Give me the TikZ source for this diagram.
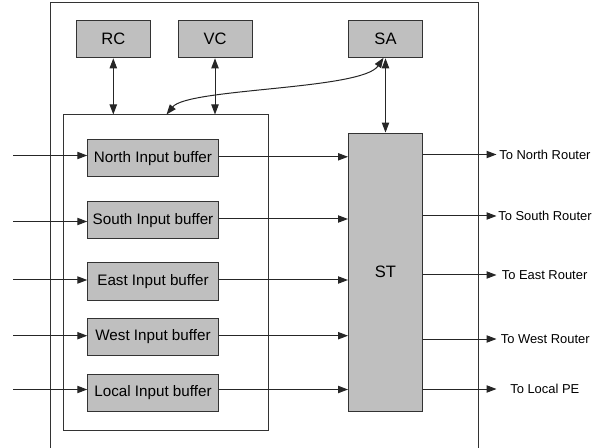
\documentclass[tikz,border=0pt]{standalone}
\usepackage{fontspec}
\setmainfont{Liberation Sans}
\usetikzlibrary{arrows.meta}
\begin{document}
\begin{tikzpicture}[x=0.75pt,y=-0.75pt,
  blk/.style={draw=black!80,fill=black!25,line width=0.75pt,inner sep=0pt},
  bigtxt/.style={font=\fontsize{12.4pt}{14pt}\selectfont},
  buftxt/.style={font=\fontsize{11.4pt}{13pt}\selectfont},
  outtxt/.style={font=\fontsize{9.7pt}{12pt}\selectfont,anchor=west,inner sep=0pt},
  arr/.style={line width=0.75pt,draw=black!85,-{Triangle[length=7.5pt,width=5.5pt]}},
  darr/.style={line width=0.75pt,draw=black!85,{Triangle[length=7.5pt,width=5.5pt]}-{Triangle[length=7.5pt,width=5.5pt]}},
  frame/.style={draw=black!80,line width=0.75pt}]
\useasboundingbox (0,0) rectangle (605,448);
% outer frame (open at bottom)
\draw[frame] (50.5,448) -- (50.5,3) -- (478.3,3) -- (478.3,448);
% inner box
\node[frame,minimum width=205*0.75pt,minimum height=315*0.75pt,inner sep=0pt] (inner) at (165.5,272.5) {};
% control blocks
\node[blk,bigtxt,minimum width=74*0.75pt,minimum height=37*0.75pt] (rc) at (113.3,39.3) {RC};
\node[blk,bigtxt,minimum width=74*0.75pt,minimum height=37*0.75pt] (vc) at (215,39.3) {VC};
\node[blk,bigtxt,minimum width=74*0.75pt,minimum height=37*0.75pt] (sa) at (385.5,39.3) {SA};
\node[blk,bigtxt,minimum width=74*0.75pt,minimum height=278.5*0.75pt] (st) at (385.5,272.3) {ST};
% buffers
\node[blk,buftxt,minimum width=130.5*0.75pt,minimum height=37*0.75pt] (nb) at (153,158.5) {North Input buffer};
\node[blk,buftxt,minimum width=130.5*0.75pt,minimum height=37*0.75pt] (sb) at (153,220.5) {South Input buffer};
\node[blk,buftxt,minimum width=130.5*0.75pt,minimum height=37*0.75pt] (eb) at (153,281.5) {East Input buffer};
\node[blk,buftxt,minimum width=130.5*0.75pt,minimum height=37*0.75pt] (wb) at (153,337) {West Input buffer};
\node[blk,buftxt,minimum width=130.5*0.75pt,minimum height=37*0.75pt] (lb) at (153,393) {Local Input buffer};
% input coordinates
\coordinate (inN) at (13,155.5);
\coordinate (inS) at (13,221.5);
\coordinate (inE) at (13,280);
\coordinate (inW) at (13,335.7);
\coordinate (inL) at (13,389.5);
\draw[arr] (inN) -- (inN -| nb.west);
\draw[arr] (inS) -- (inS -| sb.west);
\draw[arr] (inE) -- (inE -| eb.west);
\draw[arr] (inW) -- (inW -| wb.west);
\draw[arr] (inL) -- (inL -| lb.west);
% buffer to ST
\coordinate (xN) at (0,156.8);
\coordinate (xS) at (0,219);
\coordinate (xE) at (0,280);
\coordinate (xW) at (0,335.7);
\coordinate (xL) at (0,389.5);
\draw[arr] (xN -| nb.east) -- (xN -| st.west);
\draw[arr] (xS -| sb.east) -- (xS -| st.west);
\draw[arr] (xE -| eb.east) -- (xE -| st.west);
\draw[arr] (xW -| wb.east) -- (xW -| st.west);
\draw[arr] (xL -| lb.east) -- (xL -| st.west);
% outputs
\coordinate (oN) at (496.5,154.5);
\coordinate (oS) at (496.5,216);
\coordinate (oE) at (496.5,275);
\coordinate (oW) at (496.5,339);
\coordinate (oL) at (496.5,389);
\draw[arr] (oN -| st.east) -- (oN);
\draw[arr] (oS -| st.east) -- (oS);
\draw[arr] (oE -| st.east) -- (oE);
\draw[arr] (oW -| st.east) -- (oW);
\draw[arr] (oL -| st.east) -- (oL);
\node[outtxt] (tN) at (499,154.5) {To North Router};
\node[outtxt] (tS) at (498,216) {To South Router};
\node[outtxt] (tE) at (501.5,275) {To East Router};
\node[outtxt] (tW) at (500.5,339) {To West Router};
\node[outtxt] (tL) at (510,389) {To Local PE};
% control links
\draw[darr] (rc.south) -- (rc.south |- inner.north);
\draw[darr] (vc.south) -- (vc.south |- inner.north);
\draw[darr] (sa.south) -- (st.north);
\coordinate (cin) at (166.5,0);
\draw[darr] (cin |- inner.north) .. controls (188,88) and (362,90) .. (383.5,57.8);
\end{tikzpicture}
\end{document}
